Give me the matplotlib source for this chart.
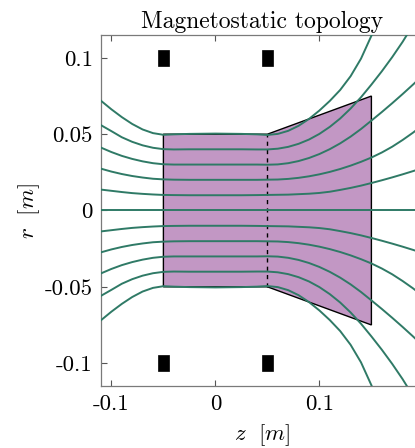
import matplotlib
matplotlib.use("Agg")
import matplotlib.pyplot as plt
from matplotlib.patches import Polygon, Rectangle

plt.rcParams['mathtext.fontset'] = 'cm'
plt.rcParams['axes.unicode_minus'] = False

# ---------------- data ----------------
title = "Magnetostatic topology"
xlabel = r"$z\ \ [m]$"
ylabel = r"$r\ \ [m]$"

xticks = [-0.1, 0.0, 0.1]
xticklabels = ["-0.1", "0", "0.1"]
yticks = [-0.1, -0.05, 0.0, 0.05, 0.1]
yticklabels = ["-0.1", "-0.05", "0", "0.05", "0.1"]

# domain outline (z, r)
domain_z = [-0.05, 0.05, 0.15, 0.15, 0.05, -0.05]
domain_r = [0.05, 0.05, 0.075, -0.075, -0.05, -0.05]

# throat (dashed) line
throat_z = [0.05, 0.05]
throat_r = [-0.05, 0.05]

# coil centres (z, r) and size
coil_z = [-0.05, 0.05, -0.05, 0.05]
coil_r = [0.1, 0.1, -0.1, -0.1]
coil_size = 0.0105

# field lines
line_a_z = [-0.115, -0.110, -0.100, -0.090, -0.080, -0.070, -0.060, -0.050, -0.040, -0.025, 0.000,
            0.025, 0.040, 0.050, 0.060, 0.070, 0.080, 0.090, 0.100, 0.110, 0.120, 0.130, 0.140,
            0.150, 0.156]
line_a_r_up = [0.0748, 0.0719, 0.0663, 0.0612, 0.0567, 0.0531, 0.0507, 0.0496, 0.0499, 0.0502, 0.0504,
               0.0502, 0.0499, 0.0495, 0.0502, 0.0522, 0.0555, 0.0600, 0.0655, 0.0718, 0.0790, 0.0880,
               0.0995, 0.1145, 0.1250]
line_a_r_dn = [-0.0748, -0.0719, -0.0663, -0.0612, -0.0567, -0.0531, -0.0507, -0.0496, -0.0499, -0.0502, -0.0504,
               -0.0502, -0.0499, -0.0495, -0.0502, -0.0522, -0.0555, -0.0600, -0.0655, -0.0718, -0.0790, -0.0880,
               -0.0995, -0.1145, -0.1250]

line_b_z = [-0.115, -0.110, -0.100, -0.090, -0.080, -0.070, -0.060, -0.050, -0.040, -0.025, 0.000,
            0.025, 0.040, 0.050, 0.060, 0.070, 0.080, 0.090, 0.100, 0.110, 0.120, 0.130, 0.140,
            0.150, 0.160, 0.170, 0.180, 0.190]
line_b_r_up = [0.0580, 0.0559, 0.0520, 0.0480, 0.0450, 0.0427, 0.0411, 0.0402, 0.0400, 0.0401, 0.0401,
               0.0401, 0.0400, 0.0400, 0.0405, 0.0417, 0.0437, 0.0465, 0.0502, 0.0548, 0.0603, 0.0668, 0.0742,
               0.0825, 0.0912, 0.1005, 0.1105, 0.1215]
line_b_r_dn = [-0.0580, -0.0559, -0.0520, -0.0480, -0.0450, -0.0427, -0.0411, -0.0402, -0.0400, -0.0401, -0.0401,
               -0.0401, -0.0400, -0.0400, -0.0405, -0.0417, -0.0437, -0.0465, -0.0502, -0.0548, -0.0603, -0.0668, -0.0742,
               -0.0825, -0.0912, -0.1005, -0.1105, -0.1215]

line_c_z = [-0.115, -0.110, -0.100, -0.090, -0.080, -0.070, -0.060, -0.050, -0.040, -0.025, 0.000,
            0.025, 0.040, 0.050, 0.060, 0.070, 0.080, 0.090, 0.100, 0.110, 0.120, 0.130, 0.140,
            0.150, 0.160, 0.170, 0.180, 0.190, 0.200]
line_c_r_up = [0.0430, 0.0412, 0.0383, 0.0358, 0.0338, 0.0322, 0.0310, 0.0303, 0.0301, 0.0301, 0.0301,
               0.0301, 0.0301, 0.0300, 0.0302, 0.0310, 0.0324, 0.0344, 0.0370, 0.0402, 0.0440, 0.0484, 0.0534,
               0.0589, 0.0645, 0.0703, 0.0763, 0.0825, 0.0889]
line_c_r_dn = [-0.0430, -0.0412, -0.0383, -0.0358, -0.0338, -0.0322, -0.0310, -0.0303, -0.0301, -0.0301, -0.0301,
               -0.0301, -0.0301, -0.0300, -0.0302, -0.0310, -0.0324, -0.0344, -0.0370, -0.0402, -0.0440, -0.0484, -0.0534,
               -0.0589, -0.0645, -0.0703, -0.0763, -0.0825, -0.0889]

line_d_z = [-0.115, -0.110, -0.100, -0.090, -0.080, -0.070, -0.060, -0.050, -0.040, -0.025, 0.000,
            0.025, 0.040, 0.050, 0.060, 0.070, 0.080, 0.090, 0.100, 0.110, 0.120, 0.130, 0.140,
            0.150, 0.160, 0.170, 0.180, 0.190, 0.200]
line_d_r_up = [0.0289, 0.0274, 0.0255, 0.0239, 0.0226, 0.0216, 0.0208, 0.0204, 0.0202, 0.0201, 0.0201,
               0.0201, 0.0201, 0.0202, 0.0203, 0.0207, 0.0214, 0.0224, 0.0237, 0.0253, 0.0272, 0.0294, 0.0319,
               0.0347, 0.0380, 0.0418, 0.0462, 0.0510, 0.0562]
line_d_r_dn = [-0.0289, -0.0274, -0.0255, -0.0239, -0.0226, -0.0216, -0.0208, -0.0204, -0.0202, -0.0201, -0.0201,
               -0.0201, -0.0201, -0.0202, -0.0203, -0.0207, -0.0214, -0.0224, -0.0237, -0.0253, -0.0272, -0.0294, -0.0319,
               -0.0347, -0.0380, -0.0418, -0.0462, -0.0510, -0.0562]

line_e_z = [-0.115, -0.110, -0.100, -0.090, -0.080, -0.070, -0.060, -0.050, -0.040, -0.025, 0.000,
            0.025, 0.040, 0.050, 0.070, 0.090, 0.100, 0.110, 0.120, 0.130, 0.140,
            0.150, 0.160, 0.170, 0.180, 0.190, 0.200]
line_e_r_up = [0.0142, 0.0137, 0.0129, 0.0121, 0.0114, 0.0109, 0.0105, 0.0102, 0.0101, 0.0100, 0.0100,
               0.0100, 0.0101, 0.0102, 0.0104, 0.0110, 0.0115, 0.0123, 0.0135, 0.0148, 0.0163,
               0.0180, 0.0198, 0.0217, 0.0237, 0.0258, 0.0280]
line_e_r_dn = [-0.0142, -0.0137, -0.0129, -0.0121, -0.0114, -0.0109, -0.0105, -0.0102, -0.0101, -0.0100, -0.0100,
               -0.0100, -0.0101, -0.0102, -0.0104, -0.0110, -0.0115, -0.0123, -0.0135, -0.0148, -0.0163,
               -0.0180, -0.0198, -0.0217, -0.0237, -0.0258, -0.0280]

axis_z = [-0.115, 0.2]
axis_r = [0.0, 0.0]

# ---------------- drawing ----------------
W, H = 415, 448
fig = plt.figure(figsize=(W / 100, H / 100), dpi=100)
left_px, top_px, bottom_px = 101, 35, 386
xlim = (-0.11, 0.2)
ylim = (-0.115, 0.115)
px_per_unit = 1040.0
width_px = (xlim[1] - xlim[0]) * px_per_unit
height_px = bottom_px - top_px
ax = fig.add_axes([left_px / W, (H - bottom_px) / H, width_px / W, height_px / H])

green = '#2f7a66'
purple = '#c297c4'

ax.add_patch(Polygon(list(zip(domain_z, domain_r)), closed=True,
                     facecolor=purple, edgecolor='black', linewidth=1.0, zorder=1))
ax.plot(throat_z, throat_r, color='black', linestyle=(0, (3, 3)), linewidth=1.0, zorder=2)

for zc, rc in zip(coil_z, coil_r):
    ax.add_patch(Rectangle((zc - coil_size / 2, rc - coil_size / 2), coil_size, coil_size,
                           facecolor='black', edgecolor='black', linewidth=0.5, zorder=3))

lines = [
    (line_a_z, line_a_r_up), (line_a_z, line_a_r_dn),
    (line_b_z, line_b_r_up), (line_b_z, line_b_r_dn),
    (line_c_z, line_c_r_up), (line_c_z, line_c_r_dn),
    (line_d_z, line_d_r_up), (line_d_z, line_d_r_dn),
    (line_e_z, line_e_r_up), (line_e_z, line_e_r_dn),
    (axis_z, axis_r),
]
for zz, rr in lines:
    ax.plot(zz, rr, color=green, linewidth=1.4, zorder=4,
            solid_capstyle='round', solid_joinstyle='round')

ax.set_xlim(*xlim)
ax.set_ylim(*ylim)

ax.set_xticks(xticks)
ax.set_xticklabels(xticklabels, fontfamily='cmr10', fontsize=16.5)
ax.set_yticks(yticks)
ax.set_yticklabels(yticklabels, fontfamily='cmr10', fontsize=16.5)
ax.tick_params(direction='in', length=4, width=0.8, color='#555555',
               top=True, right=True, pad=6)

for s in ax.spines.values():
    s.set_color('#7a7a7a')
    s.set_linewidth(0.9)

fig.text(262 / W, 1 - 435 / H, xlabel, fontsize=16.5, ha='center', va='center')
fig.text(29 / W, 1 - 211 / H, ylabel, fontsize=16.5, ha='center', va='center', rotation=90)
ax.set_title(title, fontfamily='cmr10', fontsize=17, pad=5)

fig.savefig('out.png', dpi=100)
